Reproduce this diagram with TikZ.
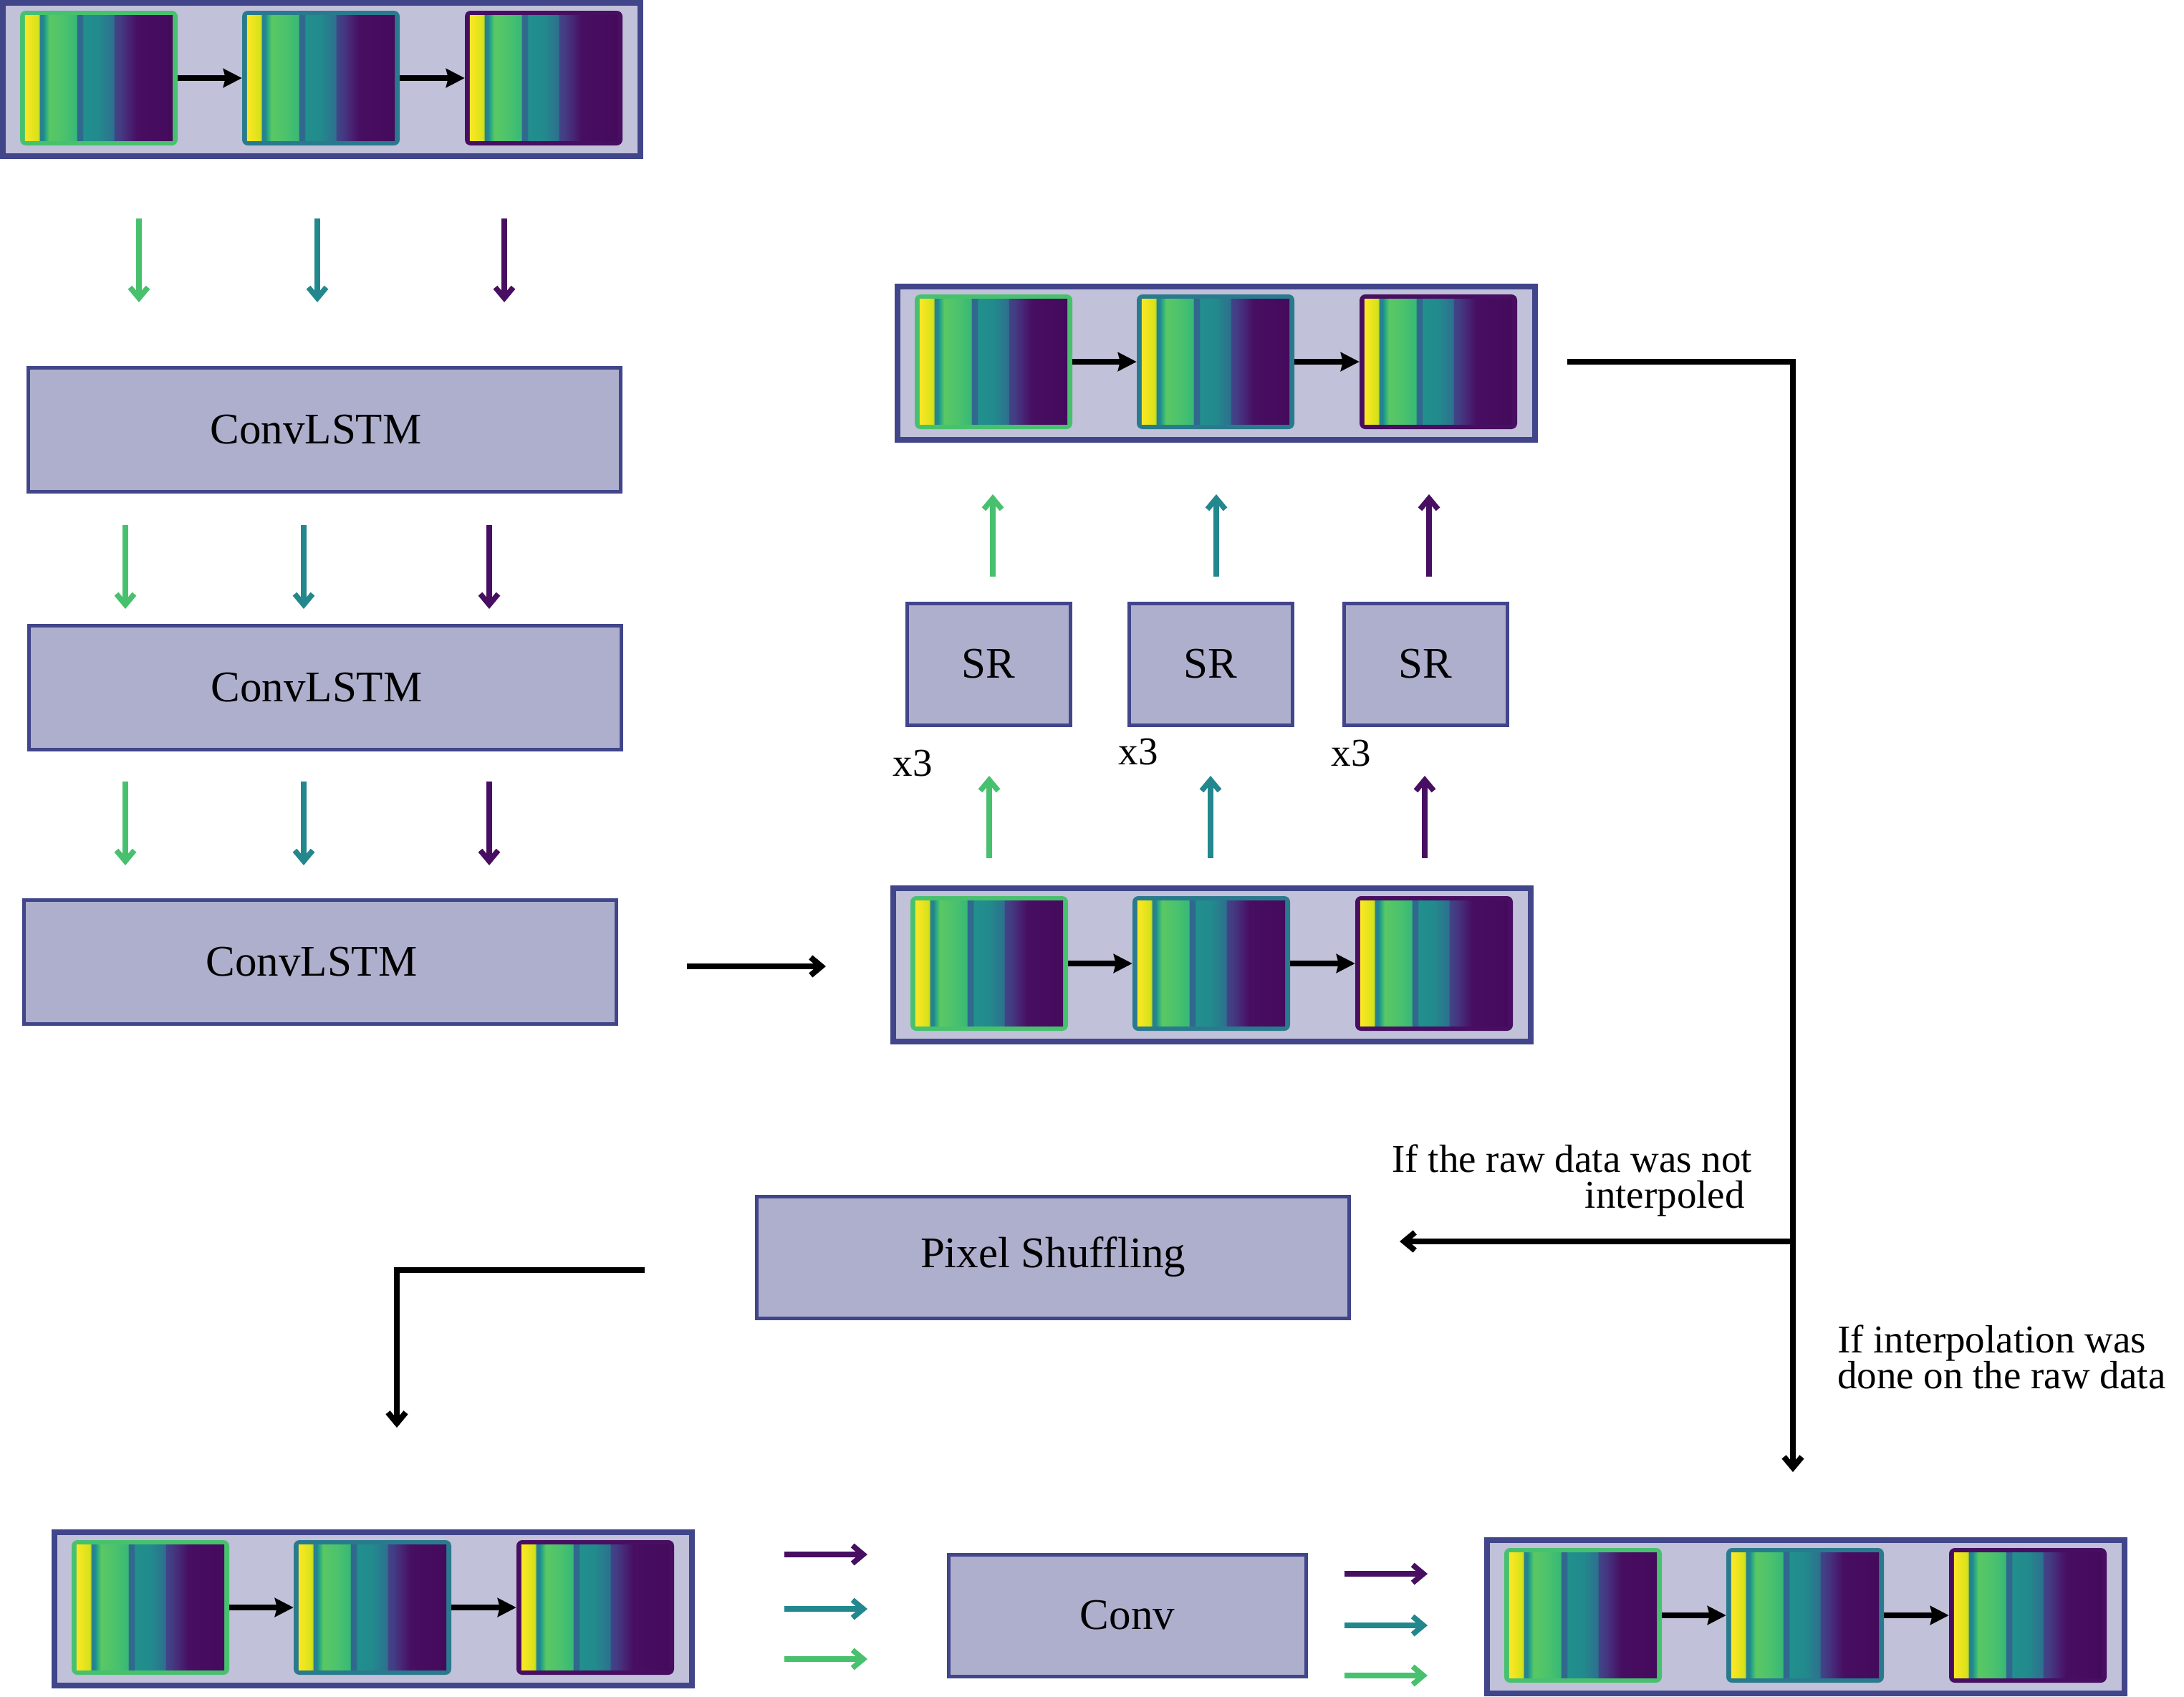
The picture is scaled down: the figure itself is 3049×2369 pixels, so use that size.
\documentclass[tikz,border=0pt]{standalone}
\usepackage{fontspec}
\setmainfont{Liberation Serif}
\usetikzlibrary{arrows.meta,calc}

\definecolor{pborder}{HTML}{41458A}
\definecolor{pfill}{HTML}{C1C1D9}
\definecolor{bfill}{HTML}{AEAFCC}
\definecolor{cgreen}{HTML}{48C16E}
\definecolor{cteal}{HTML}{23878E}
\definecolor{cpurple}{HTML}{470E61}
\definecolor{fteal}{HTML}{2A7A8E}
% viridis-like stripe colours
\definecolor{va}{HTML}{FDE725}
\definecolor{vb}{HTML}{D8E219}
\definecolor{vc}{HTML}{C0DD25}
\definecolor{vd}{HTML}{2A7F8E}
\definecolor{ve}{HTML}{24868E}
\definecolor{vf}{HTML}{1FA088}
\definecolor{vg}{HTML}{5AC864}
\definecolor{vh}{HTML}{4EC36B}
\definecolor{vi}{HTML}{38B977}
\definecolor{vj}{HTML}{31688E}
\definecolor{vk}{HTML}{21908D}
\definecolor{vl}{HTML}{228A8D}
\definecolor{vm}{HTML}{2D708E}
\definecolor{vn}{HTML}{414487}
\definecolor{vo}{HTML}{433D84}
\definecolor{vp}{HTML}{482475}
\definecolor{vq}{HTML}{470E61}
\definecolor{vr}{HTML}{450A5C}

\pgfdeclarehorizontalshading{vbar}{100bp}{%
color(0bp)=(va); color(25bp)=(va); color(29.25bp)=(vb); color(29.8bp)=(vc);
color(30bp)=(vd); color(31.2bp)=(ve); color(31.7bp)=(vf); color(33.3bp)=(vg);
color(37.5bp)=(vh); color(42.4bp)=(vi); color(42.7bp)=(vj); color(44.4bp)=(vj);
color(44.8bp)=(vk); color(50bp)=(vl); color(55bp)=(vm); color(55.3bp)=(vn);
color(57bp)=(vo); color(60bp)=(vp); color(63bp)=(vq); color(75bp)=(vr); color(100bp)=(vr)}

\newcommand{\boxfont}{\fontsize{61pt}{63pt}\selectfont}
\newcommand{\lblfont}{\fontsize{55pt}{50pt}\selectfont}

\tikzset{
  panelbox/.style={draw=pborder, fill=pfill, line width=8pt, inner sep=0pt,
    minimum width=890pt, minimum height=214pt},
  imgframe/.style={draw=none, inner sep=0pt, rounded corners=8pt,
    minimum width=220pt, minimum height=188pt},
  seqarrow/.style={draw=black, line width=8pt, -{Stealth[length=26pt,width=26pt,inset=3pt]}},
  blockbox/.style={draw=pborder, fill=bfill, line width=5pt, inner sep=0pt, font=\boxfont},
  lstmbox/.style={blockbox, minimum width=827pt, minimum height=173pt},
  srbox/.style={blockbox, minimum width=228pt, minimum height=170pt},
  carrow/.style={line width=7.5pt, -{Straight Barb[length=15pt,width=25pt]}, line join=miter},
  connector/.style={draw=black, line width=8pt, -{Straight Barb[length=15pt,width=25pt]}, line join=miter},
  lbl/.style={font=\lblfont, inner sep=0pt}
}

\newcommand{\vpanel}[3]{%
  \node[panelbox] (#1) at ({#2+449},{#3+111}) {};
  \node[imgframe, fill=cgreen] (#1-1) at ({#2+138},{#3+109}) {};
  \node[imgframe, fill=fteal] (#1-2) at ({#2+448},{#3+109}) {};
  \node[imgframe, fill=cpurple] (#1-3) at ({#2+759},{#3+109}) {};
  \foreach \k in {1,2,3}{%
    \shade[shading=vbar] ([shift={(7pt,7pt)}]#1-\k.south west) rectangle ([shift={(-7pt,-7pt)}]#1-\k.north east);}
  \draw[seqarrow] (#1-1) -- (#1-2);
  \draw[seqarrow] (#1-2) -- (#1-3);
}

\begin{document}
\begin{tikzpicture}[x=1pt, y=-1pt]
\useasboundingbox[fill=white] (0,0) rectangle (3049,2369);

% image panels
\vpanel{pA}{0}{0}
\vpanel{pC}{1249}{396}
\vpanel{pB}{1243}{1236}
\vpanel{pD}{72}{2135}
\vpanel{pE}{2072}{2146}

% ConvLSTM column
\node[lstmbox] (L1) at (453,600) {ConvLSTM\hspace*{24pt}};
\node[lstmbox] (L2) at (454,960) {ConvLSTM\hspace*{24pt}};
\node[lstmbox] (L3) at (447,1343) {ConvLSTM\hspace*{24pt}};

\foreach \n/\x/\c in {a/194/cgreen, b/443/cteal, c/704/cpurple}{
  \coordinate (r1\n s) at (\x,305); \coordinate (r1\n e) at (\x,422);
  \draw[carrow, draw=\c] (r1\n s) -- (r1\n e);}
\foreach \n/\x/\c in {a/175/cgreen, b/424/cteal, c/683/cpurple}{
  \coordinate (r2\n s) at (\x,733); \coordinate (r2\n e) at (\x,850);
  \draw[carrow, draw=\c] (r2\n s) -- (r2\n e);
  \coordinate (r3\n s) at (\x,1091); \coordinate (r3\n e) at (\x,1208);
  \draw[carrow, draw=\c] (r3\n s) -- (r3\n e);}

% ConvLSTM -> panel B
\coordinate (k1) at (959,1349);
\coordinate (k2) at (1153,1349);
\draw[connector] (k1) -- (k2);

% SR boxes
\node[srbox] (S1) at (1380,927) {SR};
\node[srbox] (S2) at (1690,927) {SR};
\node[srbox] (S3) at (1990,927) {SR};

\node[lbl] (x1) at (1274,1066) {x3};
\node[lbl] (x2) at (1589,1050) {x3};
\node[lbl] (x3) at (1886,1052) {x3};

\foreach \n/\x/\y/\c in {a/1381/1386/cgreen, b/1690/1698/cteal, c/1989/1995/cpurple}{
  \coordinate (u1\n s) at (\x,1198); \coordinate (u1\n e) at (\x,1083);
  \draw[carrow, draw=\c] (u1\n s) -- (u1\n e);
  \coordinate (u2\n s) at (\y,805); \coordinate (u2\n e) at (\y,690);
  \draw[carrow, draw=\c] (u2\n s) -- (u2\n e);}

% branching connector
\coordinate (c1) at (2188,505);
\coordinate (ck) at (2503,505);
\coordinate (jn) at (2503,1733);
\coordinate (e1) at (2503,2055);
\coordinate (e2) at (1954,1733);
\draw[connector] (c1) -- (ck) -- (e1);
\draw[connector] (jn) -- (e2);

\node[lbl, anchor=east, align=right] (t1) at (2446,1648) {If the raw data was not\\interpoled\hspace*{10pt}};
\node[lbl, anchor=west, align=left] (t2) at (2565,1894) {If interpolation was\\done on the raw data};

% Pixel shuffling
\node[blockbox, minimum width=827pt, minimum height=170pt] (PS) at (1470,1755) {Pixel Shuffling};
\coordinate (p1) at (900,1773);
\coordinate (pk) at (554,1773);
\coordinate (p2) at (554,1993);
\draw[connector] (p1) -- (pk) -- (p2);

% Conv
\node[blockbox, minimum width=499pt, minimum height=170pt] (CV) at (1574,2255) {Conv};
\foreach \n/\y/\c in {a/2170/cpurple, b/2246/cteal, c/2316/cgreen}{
  \coordinate (ci\n s) at (1095,\y); \coordinate (ci\n e) at (1211,\y);
  \draw[carrow, draw=\c] (ci\n s) -- (ci\n e);}
\foreach \n/\y/\c in {a/2197/cpurple, b/2269/cteal, c/2339/cgreen}{
  \coordinate (co\n s) at (1877,\y); \coordinate (co\n e) at (1993,\y);
  \draw[carrow, draw=\c] (co\n s) -- (co\n e);}
\end{tikzpicture}
\end{document}
